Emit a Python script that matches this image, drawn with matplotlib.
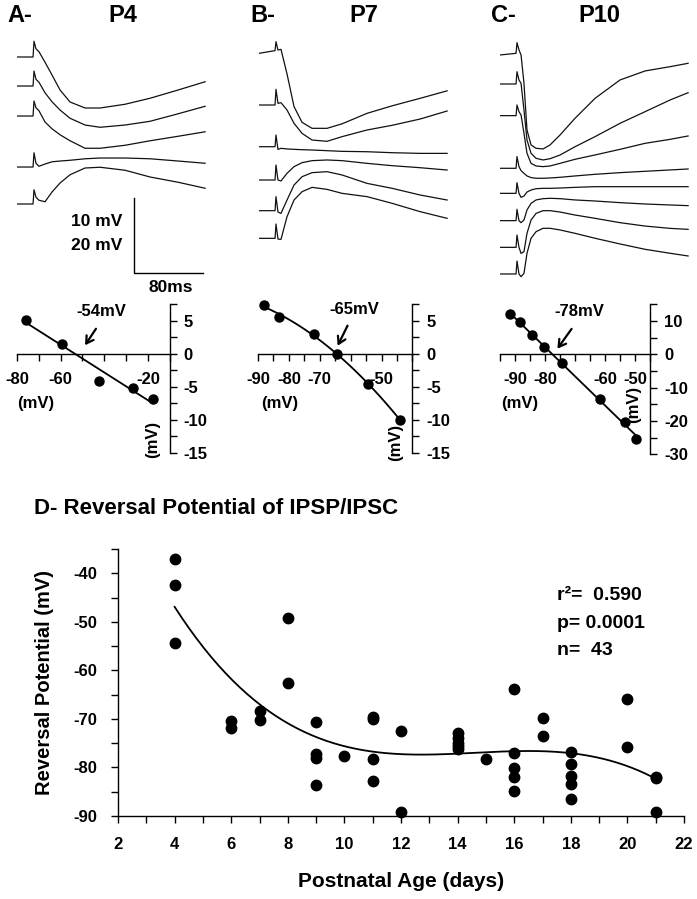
"""
IPSP reversal potential figure: example sweeps at P4/P7/P10, their I-V plots,
and reversal potential vs postnatal age with a cubic fit.
"""
import numpy as np
import matplotlib
matplotlib.use('Agg')
import matplotlib.pyplot as plt
from matplotlib.ticker import MultipleLocator

plt.rcParams['font.family'] = ['Liberation Sans', 'DejaVu Sans']
plt.rcParams['font.weight'] = 'bold'
plt.rcParams['axes.labelweight'] = 'bold'
plt.rcParams['axes.unicode_minus'] = False
plt.rcParams['axes.linewidth'] = 1.0

W, H = 697, 899
MS_PER_PX = 80 / 69      # from the 80 ms scale bar
MV_PER_PX = 10 / 75      # from the 10 mV scale bar

# ---- sweeps: time (ms from sweep start), voltage (mV re baseline)
T_AB = [0, 18.6, 19.7, 22.0, 25.5, 32.5, 40.6, 49.9, 61.5, 78.9, 96.3,
        125.3, 154.3, 186.8, 218.1]
T_C = [0, 18.6, 19.7, 22.0, 24.4, 27.8, 31.3, 36.0, 41.8, 49.9, 58.0,
       69.6, 87.0, 110.2, 139.2, 168.2, 197.2, 218.1]

P4_TRACES = [
    [0, 0, 2.1, 1.1, 0.7, -0.7, -2.4, -4.4, -6.0, -6.8, -6.8, -6.3, -5.5, -4.4, -3.3],
    [0, 0, 2.0, 0.9, 0.5, -0.9, -2.1, -3.2, -4.3, -5.2, -5.5, -5.2, -4.7, -3.7, -2.7],
    [0, 0, 2.0, 1.1, 0.7, -0.8, -1.7, -2.5, -3.3, -4.3, -4.3, -3.9, -3.3, -2.7, -2.1],
    [0, 0, 1.9, 0.5, 0.1, 0.4, 0.7, 0.8, 0.9, 1.1, 1.2, 1.2, 1.1, 0.8, 0.5],
    [0, 0, 1.9, 0.9, 0.5, 0.3, 1.6, 2.8, 3.9, 4.8, 4.9, 4.5, 3.6, 2.9, 2.1],
]
P7_TRACES = [
    [0, 0.36, 1.56, 0.44, 0.53, -2.76, -7.1, -9.2, -10.0, -10.0, -9.4, -8.0, -7.0, -6.0, -5.0],
    [0, 0, 2.09, 0.22, 0.31, -0.67, -2.44, -3.78, -4.67, -4.84, -4.22, -3.33, -2.71, -1.87, -0.8],
    [0, 0, 1.56, -0.36, -0.22, -0.3, -0.35, -0.4, -0.44, -0.53, -0.62, -0.67, -0.8, -0.89, -0.89],
    [0, 0, 2.0, 0, -0.13, 0.89, 1.78, 2.31, 2.58, 2.67, 2.58, 2.22, 1.91, 1.64, 1.33],
    [0, 0, 1.87, -0.18, -0.36, 1.42, 3.42, 4.53, 5.07, 5.2, 4.76, 3.64, 2.98, 2.09, 1.42],
    [0, 0, 1.91, -0.1, -0.13, 2.89, 5.11, 6.22, 6.8, 6.53, 6.0, 5.56, 4.67, 3.56, 2.67],
]
P10_TRACES = [
    [0, 0.22, 1.64, 0.67, 0, -3.78, -10.0, -12.0, -12.44, -12.53, -12.0, -10.67, -8.44, -5.78, -3.33, -2.13, -1.56, -1.11],
    [0, 0, 1.64, 0.53, 0.09, -3.47, -7.47, -9.24, -9.91, -10.13, -9.96, -9.47, -8.36, -7.02, -5.24, -3.69, -2.13, -1.16],
    [0, 0, 1.42, 0.53, 0.09, -2.36, -5.02, -6.36, -6.71, -6.8, -6.71, -6.36, -5.82, -5.24, -4.49, -3.69, -3.16, -2.71],
    [0, 0, 1.56, 0.22, -0.31, -0.67, -1.02, -1.24, -1.33, -1.33, -1.29, -1.2, -1.02, -0.8, -0.58, -0.4, -0.22, -0.09],
    [0, 0, 1.42, 0, -0.53, -0.36, 0.18, 0.44, 0.62, 0.67, 0.67, 0.71, 0.8, 0.89, 0.89, 0.89, 0.89, 0.89],
    [0, 0, 1.51, 0, -0.27, 0.09, 1.42, 2.31, 2.76, 2.93, 2.98, 2.93, 2.76, 2.62, 2.4, 2.22, 2.09, 2.0],
    [0, 0, 1.64, 0, -0.8, -0.58, 1.87, 3.64, 4.53, 4.89, 4.89, 4.71, 4.31, 3.87, 3.29, 2.84, 2.53, 2.4],
    [0, 0, 1.73, 0, -0.36, 0.09, 2.76, 4.76, 5.64, 6.09, 6.09, 5.87, 5.42, 4.76, 4.0, 3.29, 2.76, 2.4],
]
# vertical stacking of the sweeps (display offset, mV below panel top)
P4_OFFSETS = [-3.6, -7.47, -11.47, -18.27, -23.2]
P7_OFFSETS = [-3.11, -10.0, -15.56, -20.0, -24.09, -27.78]
P10_OFFSETS = [-3.33, -7.2, -11.42, -18.44, -21.78, -25.42, -28.98, -32.53]

# ---- I-V relations (holding potential mV, IPSP amplitude mV)
IV_P4_X = [-75.8, -59.2, -42.5, -26.6, -17.8]
IV_P4_Y = [5.15, 1.5, -4.2, -5.3, -6.9]
IV_P7_X = [-88.0, -83.3, -72.0, -64.4, -54.4, -43.9]
IV_P7_Y = [7.3, 5.6, 2.9, -0.05, -4.65, -10.1]
IV_P10_X = [-91.8, -88.3, -84.2, -80.3, -74.4, -61.8, -53.4, -49.6]
IV_P10_Y = [12.1, 9.6, 5.9, 2.2, -2.5, -13.4, -20.4, -25.4]

# ---- reversal potential vs age
AGE = [4, 4, 4, 6, 6, 7, 7, 8, 8, 9, 9, 9, 9, 10, 11, 11, 11, 11, 12, 12,
       14, 14, 14, 14, 14, 15, 16, 16, 16, 16, 16, 17, 17, 18, 18, 18, 18, 18,
       20, 20, 21, 21, 21]
EREV = [-37.0, -42.4, -54.3, -70.5, -71.8, -68.4, -70.3, -49.3, -62.7,
        -70.6, -77.3, -78.1, -83.6, -77.6, -69.6, -70.1, -78.2, -82.8,
        -72.5, -89.2, -73.0, -74.0, -75.0, -75.6, -76.3, -78.2,
        -63.9, -77.1, -80.2, -81.9, -84.9, -69.9, -73.6,
        -76.9, -79.3, -81.7, -83.4, -86.6, -66.0, -75.8, -82.0, -82.2, -89.2]
STATS = ['r²=  0.590', 'p= 0.0001', 'n=  43']


def px_axes(fig, l, t, r, b):
    return fig.add_axes([l / W, 1 - b / H, (r - l) / W, (b - t) / H])


def fig_text(fig, x, y, s, **kw):
    fig.text(x / W, 1 - y / H, s, **kw)


def draw_traces(fig, left, t, traces, offsets):
    ax = px_axes(fig, left, 30, left + 190, 300)
    for v, off in zip(traces, offsets):
        ax.plot(t, np.array(v) + off, color='#111111', lw=0.9)
    ax.set_xlim(0, 190 * MS_PER_PX)
    ax.set_ylim(-270 * MV_PER_PX, 0)
    ax.axis('off')
    return ax


def draw_iv(fig, box, x, y, deg, xlim, ylim, xstep, xshow, ymaj, ymin,
            label, txt_xy, tail, head, ylab_xy, xlab_xy):
    ax = px_axes(fig, *box)
    ax.plot(x, y, 'o', color='black', ms=6.5, zorder=3, clip_on=False)
    coef = np.polyfit(x, y, deg)
    xx = np.linspace(min(x), max(x), 100)
    ax.plot(xx, np.polyval(coef, xx), color='black', lw=1.3, clip_on=False)
    ax.set_xlim(*xlim)
    ax.set_ylim(*ylim)
    for s in ['left', 'top']:
        ax.spines[s].set_visible(False)
    ax.spines['bottom'].set_position(('data', 0))
    ticks = np.arange(xlim[0], xlim[1] + 0.1, xstep)
    ax.set_xticks(ticks, [str(int(v)) if int(v) in xshow else '' for v in ticks])
    ax.yaxis.tick_right()
    ax.yaxis.set_major_locator(MultipleLocator(ymaj))
    ax.yaxis.set_minor_locator(MultipleLocator(ymin))
    ax.tick_params(axis='x', direction='out', length=5, width=1,
                   labelsize=12, pad=8)
    ax.tick_params(axis='y', which='both', direction='out', length=5,
                   width=1, labelsize=12, pad=5)
    ax.text(*txt_xy, label, ha='center', va='center', fontsize=12)
    ax.annotate('', xy=head, xytext=tail,
                arrowprops=dict(arrowstyle='->,head_length=0.5,head_width=0.3',
                                lw=1.6, color='black'))
    ax.text(*ylab_xy, '(mV)', rotation=90, ha='center', va='center',
            fontsize=12, transform=ax.transAxes)
    ax.text(*xlab_xy, '(mV)', ha='center', va='center',
            fontsize=12, transform=ax.transAxes)
    return ax


fig = plt.figure(figsize=(W / 100, H / 100), dpi=100)

# ---- row 1: sweeps
ax_a = draw_traces(fig, 17, T_AB, P4_TRACES, P4_OFFSETS)
draw_traces(fig, 259, T_AB, P7_TRACES, P7_OFFSETS)
draw_traces(fig, 500, T_C, P10_TRACES, P10_OFFSETS)

# scale bar (80 ms, 10 mV) in panel A
sb_t, sb_v = 136, -32.4
ax_a.plot([sb_t, sb_t, sb_t + 80], [sb_v + 10, sb_v, sb_v], color='black',
          lw=1.0, clip_on=False, solid_joinstyle='miter')
fig_text(fig, 122, 222, '10 mV', ha='right', va='center', fontsize=12.5)
fig_text(fig, 122, 245, '20 mV', ha='right', va='center', fontsize=12.5)
fig_text(fig, 171, 287, '80ms', ha='center', va='center', fontsize=12.5)

for x, s in [(7, 'A-'), (250, 'B-'), (491, 'C-')]:
    fig_text(fig, x, 16, s, ha='left', va='center', fontsize=17)
for x, s in [(123, 'P4'), (364, 'P7'), (599, 'P10')]:
    fig_text(fig, x, 16, s, ha='center', va='center', fontsize=17)

# ---- row 2: I-V plots
draw_iv(fig, (17, 304, 169.7, 452.5), IV_P4_X, IV_P4_Y, 1,
        (-80, -10), (-15, 7.5), 10, [-80, -60, -20], 5, 2.5,
        '-54mV', (-41.5, 6.3), (-43.1, 4.1), (-49.5, 0.9),
        (0.89, 0.09), (0.12, 0.33))
draw_iv(fig, (258, 304, 412.4, 452.5), IV_P7_X, IV_P7_Y, 2,
        (-90, -40), (-15, 7.5), 5, [-90, -80, -70, -50], 5, 2.5,
        '-65mV', (-58.9, 6.6), (-60.6, 4.6), (-64.6, 0.8),
        (0.89, 0.07), (0.14, 0.33))
draw_iv(fig, (500, 304.3, 650, 454.3), IV_P10_X, IV_P10_Y, 1,
        (-95, -45), (-30, 15), 5, [-90, -80, -60, -50], 10, 5,
        '-78mV', (-68.7, 12.7), (-70.6, 8.3), (-76.4, 1.0),
        (0.89, 0.33), (0.13, 0.34))

# ---- row 3: reversal potential vs age
ax = px_axes(fig, 118, 549, 684, 816)
ax.plot(AGE, EREV, 'o', color='black', ms=7.5, zorder=3, clip_on=False)
coef = np.polyfit(AGE, EREV, 3)
xx = np.linspace(min(AGE), max(AGE), 200)
ax.plot(xx, np.polyval(coef, xx), color='black', lw=1.3)
ax.set_xlim(2, 22)
ax.set_ylim(-90, -35)
for s in ['top', 'right']:
    ax.spines[s].set_visible(False)
ax.xaxis.set_major_locator(MultipleLocator(2))
ax.xaxis.set_minor_locator(MultipleLocator(1))
ax.yaxis.set_major_locator(MultipleLocator(10))
ax.yaxis.set_minor_locator(MultipleLocator(5))
ax.tick_params(which='both', direction='out', length=5, width=1)
ax.tick_params(axis='x', labelsize=12, pad=10)
ax.tick_params(axis='y', labelsize=12, pad=10)
ax.set_xlabel('Postnatal Age (days)', fontsize=15)
ax.set_ylabel('Reversal Potential (mV)', fontsize=14.5)
ax.xaxis.set_label_coords(0.5, -0.21)
ax.yaxis.set_label_coords(-0.113, 0.5)
for y, s in zip([-44.5, -50.3, -56.0], STATS):
    ax.text(17.5, y, s, ha='left', va='center', fontsize=14)
fig_text(fig, 34, 509, 'D- Reversal Potential of IPSP/IPSC', ha='left',
         va='center', fontsize=16)

fig.savefig('out.png', dpi=100)
